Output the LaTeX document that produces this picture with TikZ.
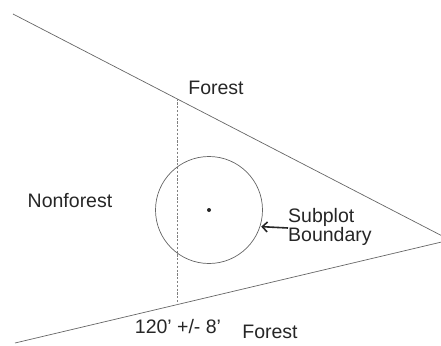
\documentclass[tikz,border=0pt]{standalone}
\usepackage{fontspec}
\setmainfont{Liberation Sans}
\usetikzlibrary{arrows.meta,calc,intersections}
\begin{document}
\begin{tikzpicture}[x=1pt,y=-1pt,
  edge/.style={draw=black!60,line width=0.7pt},
  lbl/.style={inner sep=0pt,font=\fontsize{19.5}{21}\selectfont,text=black!85},
  lbl2/.style={inner sep=0pt,font=\fontsize{19.5}{19}\selectfont,text=black!85,align=left}]
\useasboundingbox (0,0) rectangle (441,345);
\coordinate (tl) at (13,14);
\coordinate (bl) at (15,343);
\coordinate (apex) at (450,240);
\coordinate (dt) at (177.5,98.5);
\coordinate (db) at (177.5,304.5);
\coordinate (c) at (209,210);
\draw[edge] (tl) -- (apex);
\draw[edge] (bl) -- (apex);
\draw[draw=black!50,line width=0.6pt,dash pattern=on 2.2pt off 1.6pt] (dt) -- (db);
\node[circle,draw=black!60,line width=0.7pt,minimum size=107pt,inner sep=0pt] (circ) at (c) {};
\fill[black!85] (c) circle (2pt);
\node[lbl] (forestTop) at (216,88) {Forest};
\node[lbl] (nonforest) at (70,201) {Nonforest};
\node[lbl2,anchor=west] (sub) at (288,227) {Subplot\\Boundary};
\node[lbl] (dim) at (178,327) {120' +/- 8'};
\node[lbl] (forestBot) at (270,332) {Forest};
\coordinate (atail) at (288,228);
\draw[draw=black!85,line width=1.6pt,-{Straight Barb[length=5pt,width=10pt,line width=1.6pt]}] (atail) -- ($(circ.-18)+(1,0)$);
\end{tikzpicture}
\end{document}
